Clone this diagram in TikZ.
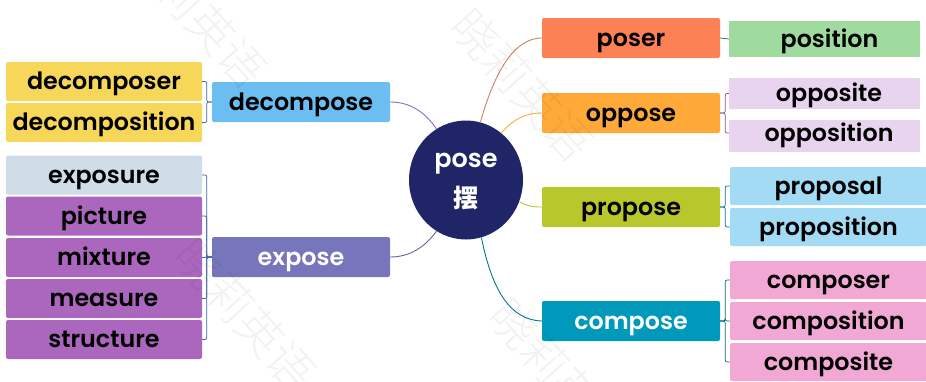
\documentclass[tikz,border=0pt]{standalone}
\usepackage{fontspec}
\setmainfont{Poppins}[UprightFont=* SemiBold,BoldFont=* SemiBold]
\newfontfamily\cjk{Noto Sans CJK SC}
\newfontfamily\cjkw{Noto Sans CJK SC Light}
\usetikzlibrary{calc,shapes.geometric}
\definecolor{cYel}{HTML}{F7D75A}
\definecolor{cDec}{HTML}{6CBEF2}
\definecolor{cExs}{HTML}{D0DCE8}
\definecolor{cPur}{HTML}{AB67BE}
\definecolor{cExp}{HTML}{7775BC}
\definecolor{cNav}{HTML}{1F2566}
\definecolor{cPsr}{HTML}{FC8256}
\definecolor{cPsn}{HTML}{9FDB9F}
\definecolor{cOpp}{HTML}{FFAA38}
\definecolor{cOps}{HTML}{E8D4EE}
\definecolor{cPro}{HTML}{B8C72C}
\definecolor{cPrl}{HTML}{A3DAF4}
\definecolor{cCom}{HTML}{0099BB}
\definecolor{cCmr}{HTML}{F2A8D4}
\tikzset{
  x=1pt,y=-1pt,
  box/.style={rounded corners=2pt,inner sep=0pt,font=\fontsize{23.8}{23.8}\selectfont,text height=20pt,text depth=4pt,text=black,align=center},
  leftleaf/.style={box,minimum width=196pt,minimum height=39pt},
  mid/.style={box,minimum width=178pt,minimum height=40pt},
  rightleaf/.style={box,minimum width=197pt,minimum height=38pt},
  nar/.style={rightleaf,minimum width=191pt,rounded corners=0pt},
  link/.style={line width=.9pt},
  brace/.style={line width=.7pt,rounded corners=2pt},
  wm/.style={text=black,opacity=.05,font=\cjkw\fontsize{46}{46}\selectfont,rotate=-48,inner sep=0pt},
}
\begin{document}
\begin{tikzpicture}
\useasboundingbox (0,0) rectangle (926,381);
% central
\node[ellipse,fill=cNav,minimum width=114pt,minimum height=119pt,inner sep=0pt] (pose) at (466,180) {};
\node[text=white,font=\bfseries\fontsize{25.5}{25.5}\selectfont,inner sep=0pt] (poset) at (466,164) {pose};
\node[text=white,font=\cjk\bfseries\fontsize{25}{25}\selectfont,inner sep=0pt] (poseb) at (466,198) {摆};
% left
\node[leftleaf,fill=cYel] (n1) at (104,81.5) {decomposer};
\node[leftleaf,fill=cYel] (n2) at (104,122.5) {decomposition};
\node[leftleaf,fill=cExs] (n3) at (104,175) {exposure};
\node[leftleaf,fill=cPur] (n4) at (104,216) {picture};
\node[leftleaf,fill=cPur] (n5) at (104,257.5) {mixture};
\node[leftleaf,fill=cPur] (n6) at (104,298.5) {measure};
\node[leftleaf,fill=cPur] (n7) at (104,339.5) {structure};
\node[mid,fill=cDec] (decompose) at (301,102) {decompose};
\node[mid,fill=cExp,text=white] (expose) at (301,257) {expose};
% right mids
\node[mid,fill=cPsr] (poser) at (631,38) {poser};
\node[mid,fill=cOpp] (oppose) at (631,113) {oppose};
\node[mid,fill=cPro] (propose) at (631,207) {propose};
\node[mid,fill=cCom,text=white] (compose) at (631,321) {compose};
% right leaves
\node[nar,fill=cPsn,minimum height=36pt] (position) at (824.5,39) {\hspace{10pt}position};
\node[nar,fill=cOps,minimum height=31pt] (opposite) at (824.5,93.5) {\hspace{9pt}opposite};
\node[nar,fill=cOps,minimum height=32pt] (opposition) at (824.5,136) {\raisebox{3pt}{\hspace{9pt}opposition}};
\node[rightleaf,fill=cPrl] (proposal) at (828.5,186) {proposal};
\node[rightleaf,fill=cPrl] (proposition) at (828.5,227) {proposition};
\node[rightleaf,fill=cCmr] (composer) at (828.5,280) {composer};
\node[rightleaf,fill=cCmr] (composition) at (828.5,321) {composition};
\node[rightleaf,fill=cCmr] (composite) at (828.5,362) {composite};
% curved links
\draw[link,color=cPsr!65!gray] (poser.west) .. controls (515,38) and (495,70) .. (pose.76);
\draw[link,color=cOpp] (oppose.west) .. controls (525,113) and (512,120) .. (pose.53);
\draw[link,color=cPro] (propose.west) .. controls (532,207) and (527,206) .. (pose.-22);
\draw[link,color=cCom!80!black] (compose.west) .. controls (510,320) and (492,290) .. (pose.-75);
\draw[link,color=cExp!70!cPur] (decompose.east) .. controls (410,102) and (425,112) .. (pose.120);
\draw[link,color=cExp!85!black] (expose.east) .. controls (410,257) and (425,247) .. (pose.-120);
% brackets
\foreach \c in {n1,n2}{\draw[brace,color=cNav!60!cDec] (decompose.west) -- ++(-5,0) |- (\c.east);}
\foreach \c in {n3,n4,n5,n6,n7}{\draw[brace,color=cNav!60!cDec] (expose.west) -- ++(-5,0) |- (\c.east);}
\draw[brace,color=cCom!70!black] (poser.east) -- (position.west);
\draw[brace,color=cPur!80!black] (oppose.east) -- ++(5,0) |- (opposite.west);
\draw[brace,color=cPur!80!black] (oppose.east) -- ++(5,0) |- ([yshift=3pt]opposition.west);
\foreach \c in {proposal,proposition}{\draw[brace,color=cCom!60!cNav] (propose.east) -- ++(5,0) |- (\c.west);}
\foreach \c in {composer,composition,composite}{\draw[brace,color=cCom!70!black] (compose.east) -- ++(5,0) |- (\c.west);}
% watermarks
\node[wm] (w1) at (196,12) {晓莉英语};
\node[wm] (w2) at (522,85) {晓莉英语};
\node[wm] (w3) at (245,315) {晓莉英语};
\node[wm] (w4) at (560,375) {晓莉英语};
\end{tikzpicture}
\end{document}
